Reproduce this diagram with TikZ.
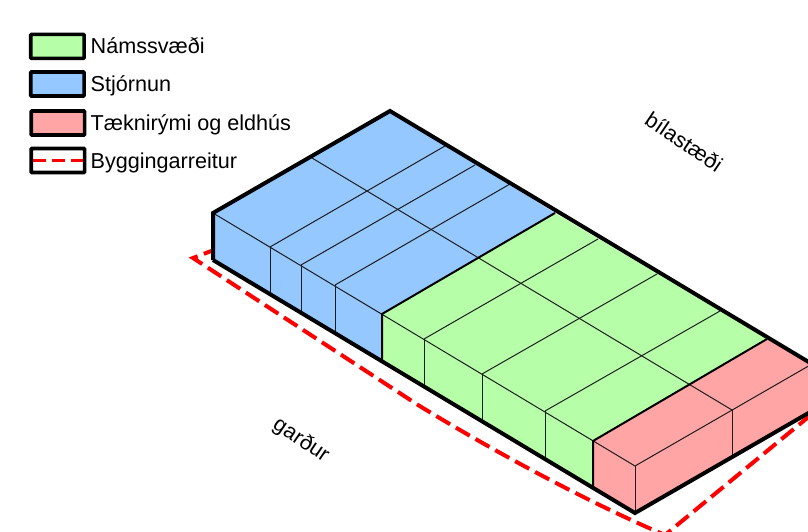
\documentclass[tikz,border=0pt]{standalone}
\usepackage{fontspec}
\setmainfont{Liberation Sans}
\usetikzlibrary{calc}
\usetikzlibrary{positioning}
\definecolor{namgreen}{HTML}{B6FFA8}
\definecolor{stjblue}{HTML}{94C8FF}
\definecolor{tekred}{HTML}{FFA5A5}
\definecolor{thinline}{HTML}{1C1C1C}
\tikzset{
  legbox/.style={draw,line width=3.6pt,rounded corners=0.8pt,minimum width=53.4pt,minimum height=24pt,inner sep=0pt},
  legtxt/.style={font=\fontsize{21.6}{24}\selectfont,inner sep=0pt,text height=18pt,text depth=3pt},
  thick line/.style={line width=4pt,line join=miter},
  mid line/.style={line width=2pt},
  thin line/.style={line width=1pt,draw=thinline},
  reitur/.style={draw=red,line width=4pt,dash pattern=on 16pt off 6.7pt}
}
\begin{document}
\begin{tikzpicture}[x=1pt,y=-1pt]
\useasboundingbox (0,0) rectangle (808,532);
\clip (0,0) rectangle (808,532);
% corners of the roof and of the floor
\coordinate (back) at (390,111);
\coordinate (left) at (213,213);
\coordinate (leftlow) at (213,260);
\coordinate (front) at (635,466);
\coordinate (frontlow) at (635,513);
\coordinate (right) at (812,364);
\coordinate (rightlow) at (812,411);
\coordinate (bgtop) at (555,213);
\coordinate (bgfront) at (382,314);
\coordinate (bglow) at (382,360);
\coordinate (grtop) at (767,339);
\coordinate (grfront) at (593,441);
\coordinate (grlow) at (593,488);
\coordinate (ridgeback) at (312,158);
\coordinate (ridgefront) at (732,410);
\coordinate (reiturleft) at (193,258);
\coordinate (reiturback) at (240,240);
\coordinate (reiturbend) at (418,405);
\coordinate (reiturfront) at (665,535);
\coordinate (reiturright) at (812,414);

\draw[reitur] (reiturback)--(reiturleft)--(reiturbend) .. controls (500,455) and (590,503) .. (reiturfront)--(reiturright);

\fill[stjblue] (back)--(bgtop)--(bgfront)--(bglow)--(leftlow)--(left)--cycle;
\fill[namgreen] (bgtop)--(grtop)--(grfront)--(grlow)--(bglow)--(bgfront)--cycle;
\fill[tekred] (grtop)--(right)--(rightlow)--(frontlow)--(grlow)--(grfront)--cycle;

% thin lines
\draw[thin line] (left)--(front)--(right);
\draw[thin line] (ridgeback)--(ridgefront);
\foreach \fx/\fy/\bx/\by in {270/247/445/146,301/265/475/165,335/285/510/184,424/339/598/239,482/374/657/274,545/411/720/311}{
  \draw[thin line] (\fx,\fy)--(\bx,\by);
}
\foreach \vx/\vy in {270/247,301/265,335/285,424/339,482/374,545/411,635/466,732/410}{
  \draw[thin line] (\vx,\vy)--++(0,46);
}

\draw[mid line] (bgtop)--(bgfront)--(bglow);
\draw[mid line] (grtop)--(grfront)--(grlow);
\draw[thick line] (leftlow)--(left)--(back)--(right);
\draw[thick line] (leftlow)--(frontlow)--(rightlow);

% legend
\node[legbox,fill=namgreen] (nambox) at (57.4,46.4) {};
\node[legbox,fill=stjblue,below=10pt of nambox] (stjbox) {};
\node[legbox,fill=tekred,below=11.4pt of stjbox,xshift=0.5pt] (tekbox) {};
\node[legbox,below=9.9pt of tekbox] (reitbox) {};
\draw[reitur,dash pattern=on 13pt off 6pt,line width=3.4pt] ([xshift=3.6pt]reitbox.west)--([xshift=-3.6pt]reitbox.east);
\node[legtxt,right=4.6pt of nambox,anchor=west,yshift=0.5pt] (namtxt) {Námssvæði};
\node[legtxt,right=4.6pt of stjbox,anchor=west,yshift=-0.5pt] (stjtxt) {Stjórnun};
\node[legtxt,right=4pt of tekbox,anchor=west] (tektxt) {Tæknirými og eldhús};
\node[legtxt,right=4pt of reitbox,anchor=west] (reittxt) {Byggingarreitur};

\node[legtxt,rotate=-34] (gardur) at (302,439) {garður};
\node[legtxt,rotate=-34] (bilastaedi) at (684,142) {bílastæði};
\end{tikzpicture}
\end{document}
